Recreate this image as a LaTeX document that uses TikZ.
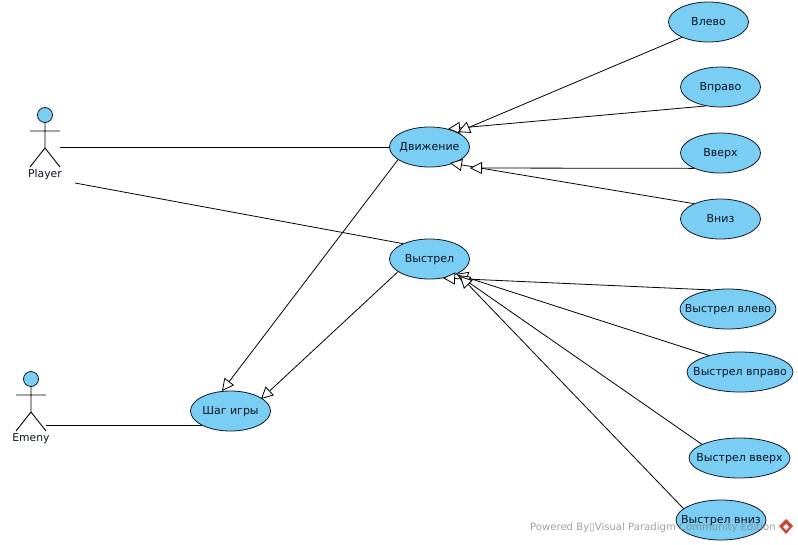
\documentclass[tikz,border=0pt]{standalone}
\usepackage{fontspec}
\setmainfont{DejaVu Sans}
\usetikzlibrary{arrows.meta,shapes.geometric}
\definecolor{ucfill}{HTML}{7ACEF4}
\definecolor{ucline}{HTML}{101828}
\definecolor{logored}{HTML}{C8453C}
\definecolor{uctext}{HTML}{0C1420}
\tikzset{
  uc/.style={ellipse,draw=ucline,line width=0.8pt,fill=ucfill,inner ysep=0pt,inner xsep=-15pt,minimum width=#1,minimum height=40pt,text height=8pt,text depth=2pt,font=\fontsize{11}{12}\selectfont,text=uctext},
  uc/.default=80pt,
  assoc/.style={draw=black,line width=0.8pt},
  gen/.style={draw=black,line width=0.8pt,-{Triangle[open,fill=white,length=12pt,width=12pt]}},
  limb/.style={draw=black,line width=0.9pt},
  actorlabel/.style={font=\fontsize{10.8}{12}\selectfont,text=uctext,inner sep=0pt}
}
\begin{document}
\begin{tikzpicture}[x=1pt,y=-1pt]
\useasboundingbox (0,0) rectangle (798,544);
\node[uc] (vlevo) at (708.5,22) {Влево};
\node[uc] (vpravo) at (720.5,87) {Вправо};
\node[uc] (vverh) at (720.5,153) {Вверх};
\node[uc] (vniz) at (720.5,219) {Вниз};
\node[uc] (dv) at (429.5,147) {Движение};
\node[uc] (shot) at (429.5,259) {Выстрел};
\node[uc=96pt] (sl) at (728,309) {Выстрел влево};
\node[uc=106pt] (sr) at (740,372) {Выстрел вправо};
\node[uc=101pt] (su) at (739.5,458) {Выстрел вверх};
\node[uc=90pt] (sd) at (721,520) {Выстрел вниз};
\node[uc] (step) at (230.5,411) {Шаг игры};
% actors
\node[circle,draw=ucline,line width=0.8pt,fill=ucfill,minimum size=15pt,inner sep=0pt] (phead) at (45,115) {};
\coordinate (phip) at (45,148);
\coordinate (pla) at (30,131);
\coordinate (pra) at (60,131);
\coordinate (pll) at (30,167);
\coordinate (prl) at (60,167);
\draw[limb] (phead.south) -- (phip) (pla) -- (pra) (pll) -- (phip) -- (prl);
\node[actorlabel] (player) at (45,174.5) {Player};
\node[circle,draw=ucline,line width=0.8pt,fill=ucfill,minimum size=15pt,inner sep=0pt] (ehead) at (31,379) {};
\coordinate (ehip) at (31,412);
\coordinate (ela) at (16,395);
\coordinate (era) at (46,395);
\coordinate (ell) at (16,431);
\coordinate (erl) at (46,431);
\draw[limb] (ehead.south) -- (ehip) (ela) -- (era) (ell) -- (ehip) -- (erl);
\node[actorlabel] (emeny) at (31,438.5) {Emeny};
% associations
\coordinate (pa) at (60,147);
\coordinate (pb) at (75,183);
\coordinate (ea) at (46,425);
\draw[assoc] (pa) -- (dv.west |- pa);
\draw[assoc] (pb) -- (shot.150);
\draw[assoc] (ea) -- (ea -| step.-153);
% generalizations
\coordinate (t1) at (448,129);
\coordinate (t2) at (458,132);
\coordinate (t3) at (450,163);
\coordinate (t4) at (470,168);
\coordinate (t5) at (443,278);
\coordinate (t6) at (456,274);
\coordinate (t7) at (458,275);
\coordinate (t8) at (460,276);
\coordinate (t9) at (222,391);
\coordinate (t10) at (261,399);
\draw[gen] (vpravo.-128) -- (t1);
\draw[gen] (vlevo.-150) -- (t2);
\draw[gen] (vniz.150) -- (t3);
\draw[gen] (vverh.-150.5) -- (t4);
\draw[gen] (sl.132) -- (t5);
\draw[gen] (sr.152) -- (t6);
\draw[gen] (su.160) -- (t7);
\draw[gen] (sd.163) -- (t8);
\draw[gen] (dv.-158) -- (t9);
\draw[gen] (shot.-158) -- (t10);
% watermark
\node[anchor=west,inner sep=0pt,text=black!50,opacity=0.75,font=\fontsize{10.1}{11}\selectfont] (mark) at (530,527.5) {Powered By▯Visual Paradigm Community Edition};
\fill[logored] (786,519) -- (793,526) -- (786,534) -- (779,526) -- cycle;
\fill[white] (786,524) -- (789,527) -- (786,530) -- (783,527) -- cycle;
\end{tikzpicture}
\end{document}
